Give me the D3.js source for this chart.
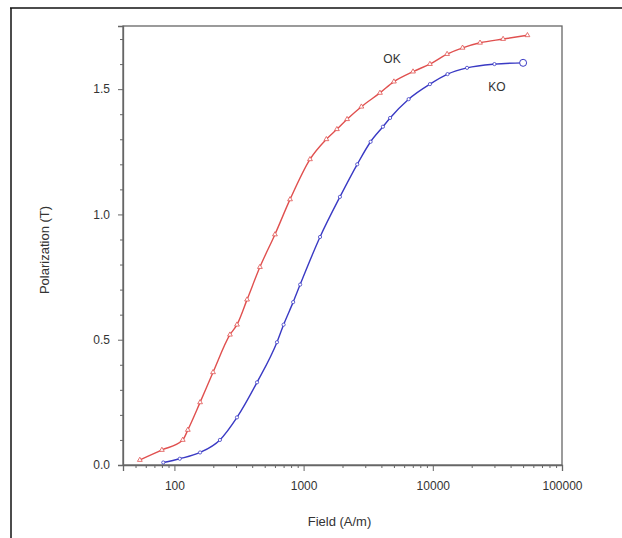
<!DOCTYPE html>
<html>
<head>
<meta charset="utf-8">
<script src="https://cdn.jsdelivr.net/npm/d3@7"></script>
<style>
  html, body { margin: 0; padding: 0; background: #fff; }
  svg { display: block; }
  text { font-family: "Liberation Sans", Arial, sans-serif; fill: #333; }
</style>
</head>
<body>
<svg id="chart" width="622" height="538"></svg>
<script>
// ---- data ----
const okField = [54, 80, 116, 127, 158, 199, 269, 305, 365, 459, 600, 785, 1120, 1500, 1810, 2170, 2800, 3900, 5000, 7030, 9500, 12900, 17000, 23200, 35000, 54000];
const okPol   = [0.02, 0.06, 0.10, 0.14, 0.25, 0.37, 0.52, 0.56, 0.66, 0.79, 0.92, 1.06, 1.22, 1.30, 1.34, 1.38, 1.43, 1.485, 1.53, 1.57, 1.60, 1.64, 1.665, 1.685, 1.70, 1.715];
const koField = [82, 110, 158, 225, 305, 436, 622, 700, 830, 940, 1340, 1910, 2600, 3300, 4110, 4670, 6500, 9500, 13000, 18400, 30000, 50000];
const koPol   = [0.01, 0.025, 0.05, 0.10, 0.19, 0.33, 0.49, 0.56, 0.65, 0.72, 0.91, 1.07, 1.20, 1.29, 1.35, 1.385, 1.46, 1.52, 1.56, 1.585, 1.60, 1.605];
const xTickValues = [100, 1000, 10000, 100000];
const xTickLabels = ["100", "1000", "10000", "100000"];
const yTickValues = [0.0, 0.5, 1.0, 1.5];
const yTickLabels = ["0.0", "0.5", "1.0", "1.5"];
const seriesNames = ["OK", "KO"];

// ---- layout ----
const svg = d3.select("#chart");
const L = 123, R = 562, T = 26, B = 465;
const x = d3.scaleLog().domain([40, 100000]).range([L, R]);
const y = d3.scaleLinear().domain([0, 1.752]).range([B, T]);

// outer border (cropped frame)
svg.append("line").attr("x1", 10).attr("x2", 622).attr("y1", 8).attr("y2", 8)
  .attr("stroke", "#111").attr("stroke-width", 1.5);
svg.append("line").attr("x1", 11).attr("x2", 11).attr("y1", 8).attr("y2", 538)
  .attr("stroke", "#111").attr("stroke-width", 1.5);

// plot frame
svg.append("rect").attr("x", L).attr("y", T).attr("width", R - L).attr("height", B - T)
  .attr("fill", "none").attr("stroke", "#666").attr("stroke-width", 1.3);

// x axis minor ticks
const minorX = [];
for (let d = 10; d < 100000; d *= 10) for (let k = 2; k <= 9; k++) { const v = d * k; if (v >= 40 && v < 100000) minorX.push(v); }
svg.append("g").attr("transform", `translate(0,${B})`)
  .call(d3.axisBottom(x).tickValues(minorX).tickSize(3).tickFormat(""))
  .call(g => g.select(".domain").remove())
  .call(g => g.selectAll("line").attr("stroke", "#666"));
// x axis major
svg.append("g").attr("transform", `translate(0,${B})`)
  .call(d3.axisBottom(x).tickValues(xTickValues).tickSize(6).tickPadding(10)
    .tickFormat((d, i) => xTickLabels[i]))
  .call(g => g.select(".domain").attr("stroke", "#666").attr("stroke-width", 1.3))
  .call(g => g.selectAll("line").attr("stroke", "#666"))
  .call(g => g.selectAll("text").attr("font-size", 12).attr("fill", "#444")
    .attr("font-family", "'Liberation Sans', Arial, sans-serif"));

// y axis minor ticks
const minorY = d3.range(0.1, 1.75, 0.1).filter(v => Math.abs(v * 2 - Math.round(v * 2)) > 1e-6);
svg.append("g").attr("transform", `translate(${L},0)`)
  .call(d3.axisLeft(y).tickValues(minorY).tickSize(3).tickFormat(""))
  .call(g => g.select(".domain").remove())
  .call(g => g.selectAll("line").attr("stroke", "#666"));
// y axis major
svg.append("g").attr("transform", `translate(${L},0)`)
  .call(d3.axisLeft(y).tickValues(yTickValues).tickSize(5).tickPadding(8)
    .tickFormat((d, i) => yTickLabels[i]))
  .call(g => g.select(".domain").attr("stroke", "#666").attr("stroke-width", 1.3))
  .call(g => g.selectAll("line").attr("stroke", "#666"))
  .call(g => g.selectAll("text").attr("font-size", 12).attr("fill", "#444")
    .attr("font-family", "'Liberation Sans', Arial, sans-serif"));

// axis titles
svg.append("text").attr("x", (L + R) / 2 - 3).attr("y", 526).attr("text-anchor", "middle")
  .attr("font-size", 13).text("Field (A/m)");
svg.append("text").attr("transform", `translate(49,250) rotate(-90)`).attr("text-anchor", "middle")
  .attr("font-size", 13).text("Polarization (T)");

// curves
const line = d3.line().x(d => x(d[0])).y(d => y(d[1])).curve(d3.curveMonotoneX);
const okData = okField.map((f, i) => [f, okPol[i]]);
const koData = koField.map((f, i) => [f, koPol[i]]);
const okColor = "#e0504f", koColor = "#3a3ac4";

svg.append("path").datum(okData).attr("d", line).attr("fill", "none")
  .attr("stroke", okColor).attr("stroke-width", 1.4);
svg.append("path").datum(koData).attr("d", line).attr("fill", "none")
  .attr("stroke", koColor).attr("stroke-width", 1.4);

// small markers
svg.append("g").selectAll("path").data(okData).join("path")
  .attr("d", d3.symbol(d3.symbolTriangle, 10))
  .attr("transform", d => `translate(${x(d[0])},${y(d[1])})`)
  .attr("fill", "#fff").attr("stroke", okColor).attr("stroke-width", 0.8);
svg.append("g").selectAll("circle").data(koData.slice(0, -1)).join("circle")
  .attr("cx", d => x(d[0])).attr("cy", d => y(d[1])).attr("r", 1.6)
  .attr("fill", "#fff").attr("stroke", koColor).attr("stroke-width", 0.8);
// last KO point open circle
const lastKO = koData[koData.length - 1];
svg.append("circle").attr("cx", x(lastKO[0])).attr("cy", y(lastKO[1])).attr("r", 3.5)
  .attr("fill", "#fff").attr("stroke", koColor).attr("stroke-width", 1);

// series labels
svg.append("text").attr("x", 392).attr("y", 63).attr("text-anchor", "middle")
  .attr("font-size", 12).text(seriesNames[0]);
svg.append("text").attr("x", 497).attr("y", 91).attr("text-anchor", "middle")
  .attr("font-size", 12).text(seriesNames[1]);
</script>
</body>
</html>
